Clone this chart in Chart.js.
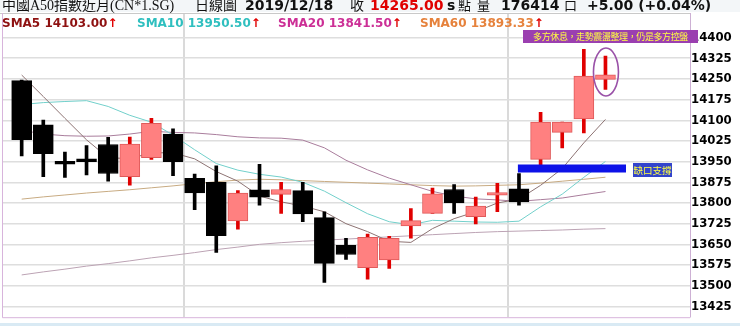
<!DOCTYPE html>
<html>
<head>
<meta charset="utf-8">
<script src="https://cdn.jsdelivr.net/npm/chart.js@4.4.1/dist/chart.umd.min.js"></script>
<style>
  body { margin: 0; background: #fff; }
  #wrap { position: relative; width: 740px; height: 326px; overflow: hidden; }
  #hdrbg { position: absolute; left: 0; top: 0; width: 740px; height: 12px; background: #f3f6f8; }
  #botbg { position: absolute; left: 0; top: 323px; width: 740px; height: 3px; background: #d9eaf4; }
  canvas { position: absolute; left: 0; top: 0; }
  .t { position: absolute; white-space: nowrap; line-height: 1; }
  .cj { font-family: "Liberation Serif", "Noto Sans CJK TC", serif; font-size: 14px; color: #111; top: -1px; }
  .num { font-family: "DejaVu Sans", sans-serif; font-weight: bold; font-size: 14px; color: #111; top: -2px; }
  .sma { font-family: "DejaVu Sans", sans-serif; font-weight: bold; font-size: 12px; top: 17px; }
  .up { color: #e00000; font-weight: bold; }
  .note { font-family: "Noto Sans CJK TC", sans-serif; color: #ffff40; text-align: center; }
</style>
</head>
<body>
<div id="wrap">
  <div id="hdrbg"></div>
  <div id="botbg"></div>
  <canvas id="chart" width="740" height="326"></canvas>

  <span class="t cj" style="left:2px">中國A50指數近月(CN*1.SG)</span>
  <span class="t cj" style="left:195px">日線圖</span>
  <span class="t num" style="left:245px">2019/12/18</span>
  <span class="t cj" style="left:350px">收</span>
  <span class="t num" style="left:370px;color:#e00000">14265.00</span>
  <span class="t num" style="left:447px">s</span>
  <span class="t cj" style="left:458px;font-size:13px">點</span>
  <span class="t cj" style="left:477px;font-size:13px">量</span>
  <span class="t num" style="left:501px">176414</span>
  <span class="t cj" style="left:564px;font-size:13px">口</span>
  <span class="t num" style="left:587px">+5.00 (+0.04%)</span>

  <span class="t sma" style="left:2px;color:#8e1111">SMA5 14103.00<span class="up">↑</span></span>
  <span class="t sma" style="left:137px;color:#2fbfbf">SMA10 13950.50<span class="up">↑</span></span>
  <span class="t sma" style="left:278px;color:#cc2f96">SMA20 13841.50<span class="up">↑</span></span>
  <span class="t sma" style="left:420px;color:#e6823c">SMA60 13893.33<span class="up">↑</span></span>

  <div class="t note" style="left:523px;top:30px;width:175px;height:13px;background:#9b3fb0;font-size:9px;line-height:13px;letter-spacing:-0.4px">多方休息，走勢震盪整理，仍是多方控盤</div>
  <div class="t note" style="left:633px;top:163px;width:39px;height:14px;background:#3344cc;font-size:9.5px;line-height:14px">缺口支撐</div>
</div>

<script>
const opens  = [14244, 14083, 13951, 13960, 14012, 13895, 13964, 14050, 13889, 13875, 13735, 13848, 13831, 13845,
                13747, 13646, 13565, 13593, 13717, 13762, 13849, 13750, 13828, 13851, 13958, 14056, 14105, 14248];
const closes = [14030, 13979, 13941, 13950, 13907, 14014, 14089, 13950, 13836, 13681, 13836, 13821, 13849, 13760,
                13581, 13613, 13675, 13672, 13736, 13833, 13800, 13789, 13838, 13804, 14093, 14093, 14260, 14265];
const highs  = [14246, 14101, 13985, 14008, 14038, 14039, 14107, 14069, 13905, 13935, 13845, 13940, 13875, 13875,
                13768, 13672, 13687, 13679, 13780, 13854, 13867, 13821, 13871, 13907, 14129, 14093, 14357, 14333];
const lows   = [13971, 13895, 13893, 13902, 13879, 13865, 13958, 13899, 13776, 13621, 13705, 13792, 13762, 13732,
                13512, 13595, 13524, 13563, 13672, 13762, 13762, 13724, 13768, 13792, 13938, 14000, 14054, 14212];

const sma5  = [14264, 14186, 14107, 14029, 13964, 13961, 13982, 13982, 13960, 13914, 13879, 13825, 13804, 13789,
               13768, 13725, 13696, 13661, 13657, 13707, 13743, 13768, 13800, 13814, 13864, 13925, 14018, 14103];
const sma10 = [14157, 14164, 14168, 14171, 14150, 14118, 14093, 14046, 13993, 13943, 13919, 13904, 13894, 13875,
               13843, 13801, 13761, 13732, 13721, 13737, 13734, 13731, 13730, 13734, 13786, 13832, 13893, 13950.5];
const sma20 = [14064, 14050, 14044, 14042, 14043, 14050, 14060, 14056, 14054, 14048, 14040, 14036, 14035, 14028,
               14000, 13955, 13920, 13890, 13866, 13842, 13825, 13815, 13811, 13806, 13812, 13818, 13830, 13841.5];
const sma60 = [13814, 13822, 13829, 13836, 13842, 13848, 13855, 13862, 13870, 13877, 13883, 13886, 13884, 13881,
               13878, 13875, 13872, 13869, 13866, 13863, 13861, 13862, 13864, 13866, 13872, 13879, 13886, 13893.33];
const smaLong = [13539, 13550, 13560, 13571, 13580, 13590, 13601, 13610, 13620, 13631, 13640, 13650, 13656, 13661,
                 13665, 13669, 13673, 13677, 13681, 13685, 13689, 13693, 13696, 13698, 13700, 13702, 13705, 13707];

const yTicks = [13425, 13500, 13575, 13650, 13725, 13800, 13875, 13950, 14025, 14100, 14175, 14250, 14325, 14400];
const xGridDays = [0, 15];
const gapLevel = 13925;
const gapFrom = 22.95, gapTo = 27.95;
const circled = { x: 27, y: 14275 };

const UP_BODY = '#ff8080', UP_EDGE = '#e05a5a', UP_WICK = '#e00000', DOWN = '#000000';
const isUp = i => closes[i] >= opens[i];
const series = arr => arr.map((v, i) => ({ x: i, y: v }));

const framePlugin = {
  id: 'frame',
  afterDraw(chart) {
    const { ctx, chartArea: a, scales } = chart;
    ctx.save();
    ctx.strokeStyle = '#c9c9c9';
    ctx.lineWidth = 1;
    ctx.beginPath(); ctx.moveTo(0, a.top + 0.5); ctx.lineTo(a.right, a.top + 0.5); ctx.stroke();
    ctx.strokeStyle = '#d8b4dc';
    ctx.beginPath();
    ctx.moveTo(a.left + 0.5, a.top); ctx.lineTo(a.left + 0.5, a.bottom + 0.5);
    ctx.lineTo(a.right, a.bottom + 0.5);
    ctx.stroke();
    // circled last candle
    const cx = scales.x.getPixelForValue(circled.x) + 0.5;
    const cy = scales.y.getPixelForValue(circled.y);
    ctx.strokeStyle = '#9a52a8';
    ctx.lineWidth = 1.6;
    ctx.beginPath(); ctx.ellipse(cx, cy, 12.5, 24, 0, 0, Math.PI * 2); ctx.stroke();
    ctx.restore();
  }
};

const lineDs = (label, arr, color, order) => ({
  type: 'line', label, data: series(arr), borderColor: color, borderWidth: 1,
  pointRadius: 0, tension: 0, order
});

new Chart(document.getElementById('chart'), {
  type: 'bar',
  data: {
    datasets: [
      {
        type: 'line', label: 'gap', order: 0,
        data: [{ x: gapFrom, y: gapLevel }, { x: gapTo, y: gapLevel }],
        borderColor: '#0d12e8', borderWidth: 8, borderCapStyle: 'butt', pointRadius: 0
      },
      {
        label: 'body', order: 1, grouped: false, barThickness: 20, borderSkipped: false, borderWidth: 1,
        data: opens.map((o, i) => ({ x: i, y: [o, closes[i]] })),
        backgroundColor: opens.map((o, i) => isUp(i) ? UP_BODY : DOWN),
        borderColor: opens.map((o, i) => isUp(i) ? UP_EDGE : DOWN)
      },
      {
        label: 'wick', order: 2, grouped: false, barThickness: 3, borderWidth: 0,
        data: highs.map((h, i) => ({ x: i, y: [lows[i], h] })),
        backgroundColor: highs.map((h, i) => isUp(i) ? UP_WICK : DOWN)
      },
      lineDs('SMA5', sma5, '#8d7373', 3),
      lineDs('SMA10', sma10, '#72d0cb', 4),
      lineDs('SMA20', sma20, '#a97d9c', 5),
      lineDs('SMA60', sma60, '#c8ab82', 6),
      lineDs('SMA120', smaLong, '#bca3b4', 7)
    ]
  },
  options: {
    responsive: false,
    animation: false,
    layout: { padding: { left: 2, top: 13, bottom: 4, right: 0 } },
    plugins: { legend: { display: false }, tooltip: { enabled: false } },
    scales: {
      x: {
        type: 'linear', offset: false, min: -0.91, max: 30.91,
        afterBuildTicks: s => { s.ticks = xGridDays.map(v => ({ value: v })); },
        afterFit: s => { s.height = 0; },
        ticks: { display: false },
        grid: { color: '#dadada', lineWidth: 2, drawTicks: false },
        border: { display: false }
      },
      y: {
        position: 'right', min: 13385.7, max: 14489,
        afterBuildTicks: s => { s.ticks = yTicks.map(v => ({ value: v })); },
        afterFit: s => { s.width = 50; },
        ticks: {
          padding: 1, color: '#000',
          font: { family: '"DejaVu Sans Condensed", "DejaVu Sans"', weight: 'bold', size: 13 },
          callback: v => String(v)
        },
        grid: { color: '#dedede', lineWidth: 1.5, drawTicks: false },
        border: { color: '#cdb0d4', width: 1 }
      }
    }
  },
  plugins: [framePlugin]
});
</script>
</body>
</html>
